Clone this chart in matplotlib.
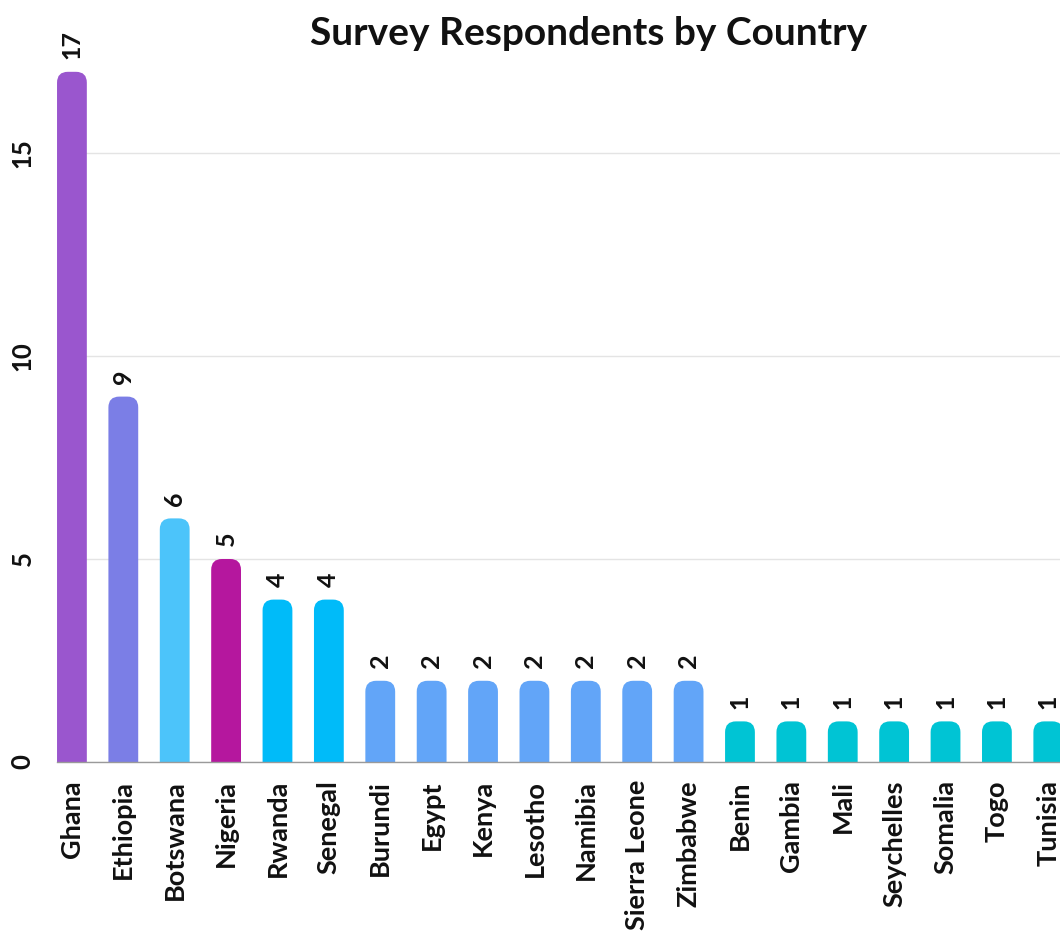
import matplotlib
matplotlib.use('Agg')
import matplotlib.pyplot as plt
from matplotlib.patches import FancyBboxPatch

countries = ['Ghana', 'Ethiopia', 'Botswana', 'Nigeria', 'Rwanda', 'Senegal',
             'Burundi', 'Egypt', 'Kenya', 'Lesotho', 'Namibia', 'Sierra Leone',
             'Zimbabwe', 'Benin', 'Gambia', 'Mali', 'Seychelles', 'Somalia',
             'Togo', 'Tunisia']
respondents = [17, 9, 6, 5, 4, 4, 2, 2, 2, 2, 2, 2, 2, 1, 1, 1, 1, 1, 1, 1]
bar_colors = ['#9A56CE', '#7B7EE6', '#4CC4FA', '#B5179E', '#00BBF9', '#00BBF9',
              '#62A5F8', '#62A5F8', '#62A5F8', '#62A5F8', '#62A5F8', '#62A5F8',
              '#62A5F8', '#00C4D4', '#00C4D4', '#00C4D4', '#00C4D4', '#00C4D4',
              '#00C4D4', '#00C4D4']

plt.rcParams['font.family'] = ['Lato', 'DejaVu Sans']

fig = plt.figure(figsize=(10.6, 9.33), dpi=100)
ax = fig.add_axes([0.0538, 0.1833, 0.9594, 0.805])

x = list(range(len(countries)))
bars = ax.bar(x, respondents, width=0.58, color=bar_colors)

ax.set_xlim(-0.29, 19.5)
ax.set_ylim(0, 18.5)

# swap the plain bars for ones with rounded tops (radius ~11px)
rx = 0.21
aspect = 1.266
for b in bars:
    b.set_visible(False)
    p = FancyBboxPatch((b.get_x(), -1), b.get_width(), b.get_height() + 1,
                       boxstyle='round,pad=0,rounding_size=%f' % rx,
                       mutation_aspect=aspect, facecolor=b.get_facecolor(),
                       edgecolor='none', zorder=3)
    ax.add_patch(p)
    ax.annotate(str(int(b.get_height())),
                (b.get_x() + b.get_width() / 2, b.get_height()),
                xytext=(0, 9), textcoords='offset points', rotation=90,
                ha='center', va='bottom', fontsize=18, fontweight='bold',
                color='#111111')

ax.set_yticks([0, 5, 10, 15])
ax.yaxis.grid(True, color='#e4e4e4', linewidth=1)
ax.set_axisbelow(True)
for s in ['top', 'right', 'left']:
    ax.spines[s].set_visible(False)
ax.spines['bottom'].set_color('#9a9a9a')
ax.spines['bottom'].set_linewidth(1)
ax.spines['bottom'].set_zorder(4)

ax.set_xticks(x)
ax.set_xticklabels(countries, rotation=90, fontsize=19.5, fontweight='bold',
                   color='#111111')
ax.tick_params(axis='x', length=0, pad=13)
ax.tick_params(axis='y', length=0, pad=16)
for lab in ax.get_yticklabels():
    lab.set_rotation(90)
    lab.set_va('center')
    lab.set_fontsize(18.5)
    lab.set_fontweight('bold')
    lab.set_color('#111111')

fig.text(0.555, 0.964, 'Survey Respondents by Country', ha='center',
         va='center', fontsize=28, fontweight='bold', color='#111111')

fig.savefig('out.png', dpi=100)
